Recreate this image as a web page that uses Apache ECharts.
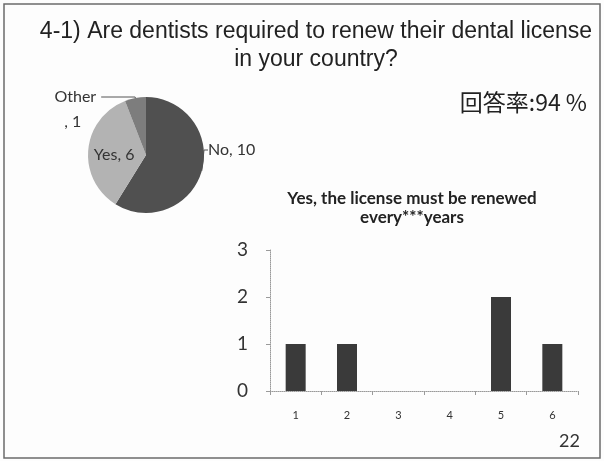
<!DOCTYPE html>
<html><head><meta charset="utf-8">
<script src="https://cdn.jsdelivr.net/npm/echarts@6/dist/echarts.min.js"></script>
<style>html,body{margin:0;padding:0;background:#fdfdfd}#c{width:604px;height:461px}</style>
</head><body><div id="c"></div>
<script>
const mainTitle = '4-1) Are dentists required to renew their dental license\nin your country?';
const responseRate = '回答率:94 %';
const pieNames = ['No', 'Yes', 'Other'];
const pieValues = [10, 6, 1];
const barTitle = 'Yes, the license must be renewed\nevery***years';
const barCategories = ['1', '2', '3', '4', '5', '6'];
const barValues = [1, 1, 0, 0, 2, 1];
const pageNumber = '22';

const pieColors = ['#505050', '#b3b3b3', '#7d7d7d'];
const pieLabelCfg = [
  { position: 'outside', formatter: p => p.name + ', ' + p.value },
  { position: 'inside', formatter: p => p.name + ', ' + p.value, padding: [6, 0, 0, 0] },
  { position: 'outside', formatter: p => '{n|' + p.name + '}\n{v|, ' + p.value + '}', padding: [24, 0, 0, 0] }
];
const pieLineCfg = [
  { length: 4, length2: 4 },
  { show: false },
  { length: 1, length2: 34 }
];

const chart = echarts.init(document.getElementById('c'), null, { renderer: 'canvas' });
chart.setOption({
  backgroundColor: '#fdfdfd',
  animation: false,
  graphic: [{ type: 'rect', shape: { x: 4, y: 4, width: 596, height: 454 }, style: { fill: 'none', stroke: '#6b6b6b', lineWidth: 1.5 } }],
  title: [
    { text: mainTitle, left: 311, textAlign: 'center', top: 13, textStyle: { fontFamily: 'Liberation Sans', fontSize: 23, fontWeight: 'normal', color: '#222', lineHeight: 28, align: 'center' } },
    { text: responseRate, right: 12, top: 86, textStyle: { fontFamily: 'Noto Sans CJK JP', fontSize: 23, fontWeight: 'normal', color: '#222' } },
    { text: barTitle, left: 407, textAlign: 'center', top: 184, textStyle: { fontFamily: 'Lato', fontSize: 17, fontWeight: 'bold', color: '#222', lineHeight: 19, align: 'center' } },
    { text: pageNumber, left: 554, top: 427, textStyle: { fontFamily: 'Lato', fontSize: 18, fontWeight: 'normal', color: '#333' } }
  ],
  grid: { left: 270, right: 26, top: 250, bottom: 70 },
  xAxis: {
    type: 'category', data: barCategories,
    axisLine: { lineStyle: { color: '#9a9a9a', type: 'dotted', width: 1 } },
    axisTick: { show: true, length: 4, lineStyle: { color: '#9a9a9a' } },
    axisLabel: { fontFamily: 'Lato', fontSize: 11, color: '#333', margin: 19 }
  },
  yAxis: {
    type: 'value', min: 0, max: 3, interval: 1,
    splitLine: { show: false },
    axisLine: { show: true, lineStyle: { color: '#9a9a9a', type: 'dotted', width: 1 } },
    axisTick: { show: true, length: 4, lineStyle: { color: '#9a9a9a' } },
    axisLabel: { fontFamily: 'Lato', fontSize: 19, color: '#333', margin: 22 }
  },
  series: [
    {
      type: 'pie', center: [146, 155], radius: 58, startAngle: 90, clockwise: true,
      avoidLabelOverlap: false,
      labelLayout: function (p) {
        if (p.dataIndex === 0) {
          return { x: 208, y: 150, align: 'left', verticalAlign: 'middle' };
        }
        return {};
      },
      data: pieNames.map((n, i) => ({
        name: n, value: pieValues[i],
        itemStyle: { color: pieColors[i] },
        label: Object.assign({ show: true, fontFamily: 'Lato', fontSize: 16, color: '#333',
          rich: { n: { fontFamily: 'Lato', fontSize: 16, color: '#333', lineHeight: 25 }, v: { fontFamily: 'Lato', fontSize: 16, color: '#333', lineHeight: 25, padding: [0, 15, 0, 0] } } }, pieLabelCfg[i]),
        labelLine: Object.assign({ lineStyle: { color: '#555', width: 1 } }, pieLineCfg[i])
      })),
      label: { show: true }
    },
    {
      type: 'bar', data: barValues, barWidth: 20,
      itemStyle: { color: '#3a3a3a' }
    }
  ]
});
</script></body></html>
